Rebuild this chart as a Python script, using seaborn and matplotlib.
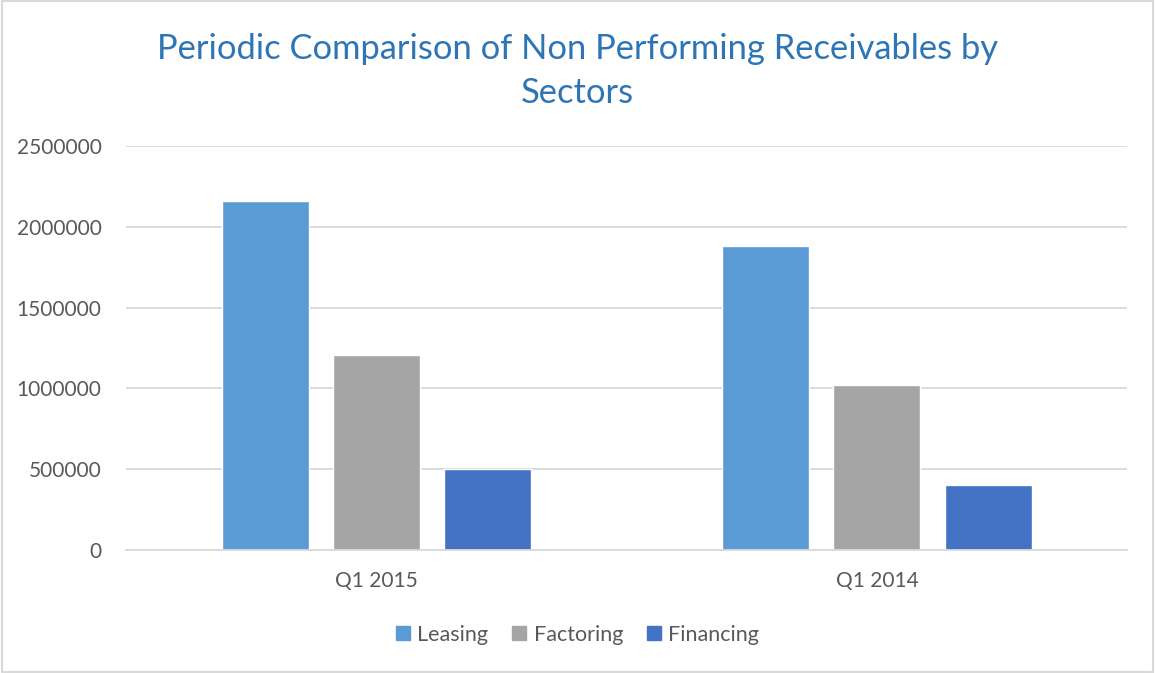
import matplotlib
matplotlib.use("Agg")
import matplotlib.pyplot as plt
import seaborn as sns
import pandas as pd
from matplotlib.patches import Rectangle

# Non performing receivables per sector and period
periods = ["Q1 2015", "Q1 2014"]
sectors = ["Leasing", "Factoring", "Financing"]
leasing = [2161000, 1884000]
factoring = [1208000, 1020000]
financing = [504000, 403000]

colors = {"Leasing": "#5B9BD5", "Factoring": "#A5A5A5", "Financing": "#4472C4"}

df = pd.DataFrame({
    "Period": periods * 3,
    "Sector": ["Leasing"] * 2 + ["Factoring"] * 2 + ["Financing"] * 2,
    "Value": leasing + factoring + financing,
})

sns.set_theme(style="white")
plt.rcParams["font.family"] = ["Lato", "DejaVu Sans"]

fig = plt.figure(figsize=(11.55, 6.73), dpi=100)
ax = fig.add_axes([0.1095, 0.1828, 0.8663, 0.6003])

sns.barplot(data=df, x="Period", y="Value", hue="Sector", order=periods,
            hue_order=sectors, palette=colors, width=0.667, gap=0.217,
            saturation=1, errorbar=None, ax=ax, legend=False)

ax.set_xlim(-0.5, 1.5)
ax.set_ylim(0, 2500000)
ax.set_yticks([0, 500000, 1000000, 1500000, 2000000, 2500000])
ax.set_yticklabels(["0", "500000", "1000000", "1500000", "2000000", "2500000"])
ax.yaxis.grid(True, color="#D9D9D9", linewidth=1.3)
ax.set_axisbelow(True)
for s in ["top", "right", "left"]:
    ax.spines[s].set_visible(False)
ax.spines["bottom"].set_color("#D9D9D9")
ax.spines["bottom"].set_linewidth(1.3)
ax.tick_params(axis="both", length=0, labelsize=15, colors="#595959")
ax.tick_params(axis="y", pad=18)
ax.tick_params(axis="x", pad=15)
ax.set_xlabel("")
ax.set_ylabel("")

fig.text(0.5, 0.894, "Periodic Comparison of Non Performing Receivables by\nSectors",
         ha="center", va="center", fontsize=24.8, color="#2E75B6",
         linespacing=1.45)

handles = [Rectangle((0, 0), 1, 1, color=colors[s]) for s in sectors]
fig.legend(handles, sectors, loc="center", bbox_to_anchor=(0.5, 0.057),
           ncol=3, frameon=False, fontsize=15.5, labelcolor="#595959",
           handlelength=0.65, handleheight=0.65, handletextpad=0.35,
           columnspacing=1.1)

fig.add_artist(Rectangle((0.002, 0.002), 0.996, 0.996, transform=fig.transFigure,
                         fill=False, edgecolor="#D9D9D9", linewidth=1.5))

fig.savefig("out.png", dpi=100, facecolor="white")
